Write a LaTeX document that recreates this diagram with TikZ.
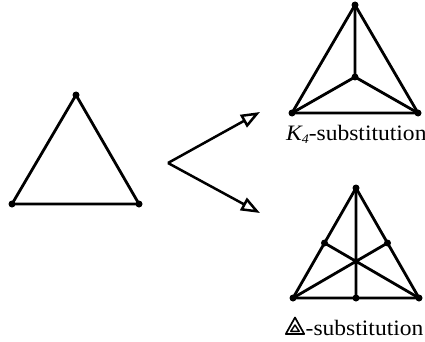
\documentclass[tikz,border=0pt]{standalone}
\usepackage{fontspec}
\setmainfont{Liberation Serif}
\usetikzlibrary{arrows.meta}
\begin{document}
\begin{tikzpicture}[x=1pt,y=-1pt, line join=round,
  vtx/.style={circle,fill,inner sep=0pt,minimum size=7pt},
  edge/.style={line width=2.8pt},
  arr/.style={line width=2.5pt,-{Triangle[open,length=19pt,width=14pt]}},
  lbl/.style={anchor=base west,inner sep=0pt,font=\fontsize{22}{22}\selectfont}]
\useasboundingbox (0,0) rectangle (425,342);
% left triangle
\node[vtx] (a1) at (76,95) {};
\node[vtx] (a2) at (12,204) {};
\node[vtx] (a3) at (139,204) {};
\draw[edge] (a1.center) -- (a2.center) -- (a3.center) -- cycle;
% arrows
\coordinate (fork) at (168,163);
\coordinate (tip1) at (260,112);
\coordinate (tip2) at (260,213);
\draw[arr] (fork) -- (tip1);
\draw[arr] (fork) -- (tip2);
% K4
\node[vtx] (k1) at (355,5) {};
\node[vtx] (k2) at (292,113) {};
\node[vtx] (k3) at (418,113) {};
\node[vtx] (k0) at (355,77) {};
\draw[edge] (k1.center) -- (k2.center) -- (k3.center) -- cycle;
\draw[edge] (k0.center) -- (k1.center) (k0.center) -- (k2.center) (k0.center) -- (k3.center);
\node[lbl] (lk) at (286,140) {\scalebox{1.07}[1]{\textit{K}\kern-1pt\raisebox{-0.3ex}{\fontsize{13}{13}\selectfont\textit{4}}-substitution}};
% triangle substitution
\node[vtx] (t1) at (356,188) {};
\node[vtx] (t2) at (293,298) {};
\node[vtx] (t3) at (419,298) {};
\node[vtx] (m1) at (356,298) {};
\node[vtx] (m2) at (324.5,243) {};
\node[vtx] (m3) at (387.5,243) {};
\draw[edge] (t1.center) -- (t2.center) -- (t3.center) -- cycle;
\draw[edge] (t1.center) -- (m1.center) (t2.center) -- (m3.center) (t3.center) -- (m2.center);
% label symbol
\draw[line width=1.7pt] (295,317.5) -- (285.8,334) -- (304.2,334) -- cycle;
\draw[line width=1.4pt] (295,325) -- (290.8,331.3) -- (299.2,331.3) -- cycle;
\node[lbl] (lt) at (305.5,335) {\scalebox{1.07}[1]{-substitution}};
\end{tikzpicture}
\end{document}
